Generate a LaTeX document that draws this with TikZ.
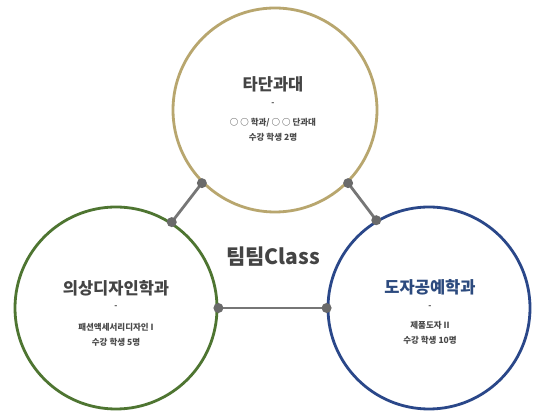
\documentclass[tikz,border=0pt]{standalone}
\usepackage{fontspec}
\newfontfamily\cjk{Noto Sans CJK KR}
\definecolor{goldc}{HTML}{B8A66E}
\definecolor{greenc}{HTML}{4E7531}
\definecolor{bluec}{HTML}{2A4789}
\definecolor{linec}{HTML}{767676}
\definecolor{dotc}{HTML}{6A6A6A}
\definecolor{txtc}{HTML}{444444}
\definecolor{smallc}{HTML}{4A4A4A}
\definecolor{navyt}{HTML}{2C4A7E}
\tikzset{
  ring/.style={circle, draw, line width=2.8pt, inner sep=0pt},
  link/.style={draw=linec, line width=2.8pt},
  joint/.style={circle, fill=dotc, inner sep=0pt, minimum size=10pt},
  titletext/.style={font=\cjk\bfseries\fontsize{16.5}{18}\selectfont, text=txtc},
  dashtext/.style={font=\cjk\bfseries\fontsize{8}{9}\selectfont, text=smallc},
  bodytext/.style={font=\cjk\bfseries\fontsize{8.5}{15.5}\selectfont, text=smallc, align=center},
}
\begin{document}
\begin{tikzpicture}[x=1pt,y=-1pt]
\useasboundingbox (0,0) rectangle (533,411);
\fill[white] (0,0) rectangle (533,411);
\node[ring, draw=goldc, minimum size=204pt] (top) at (275,110) {};
\node[ring, draw=greenc, minimum size=202pt] (left) at (116,308) {};
\node[ring, draw=bluec, minimum size=202pt] (right) at (429,308) {};
\draw[link] (top.-135) -- (left.57);
\draw[link] (top.-45) -- (right.121);
\draw[link] (left.0) -- (right.180);
\foreach \p in {top.-135,left.57,top.-45,right.121,left.0,right.180}
  \node[joint] at (\p) {};
\node[titletext] (ttop) at (273,84) {타단과대};
\node[dashtext] (dtop) at (273,104) {-};
\node[bodytext] (btop) at (273,130) {○ ○ 학과/ ○ ○ 단과대\\수강 학생 2명};
\node[titletext] (tleft) at (116,288) {의상디자인학과};
\node[dashtext] (dleft) at (116,307) {-};
\node[bodytext] (bleft) at (116,335) {패션액세서리디자인 I\\수강 학생 5명};
\node[titletext, text=navyt] (tright) at (430,287) {도자공예학과};
\node[dashtext] (dright) at (430,307) {-};
\node[bodytext] (bright) at (430,333) {제품도자 II\\수강 학생 10명};
\node[font=\cjk\bfseries\fontsize{21}{24}\selectfont, text=txtc] (center) at (273,257) {팀팀Class};
\end{tikzpicture}
\end{document}
